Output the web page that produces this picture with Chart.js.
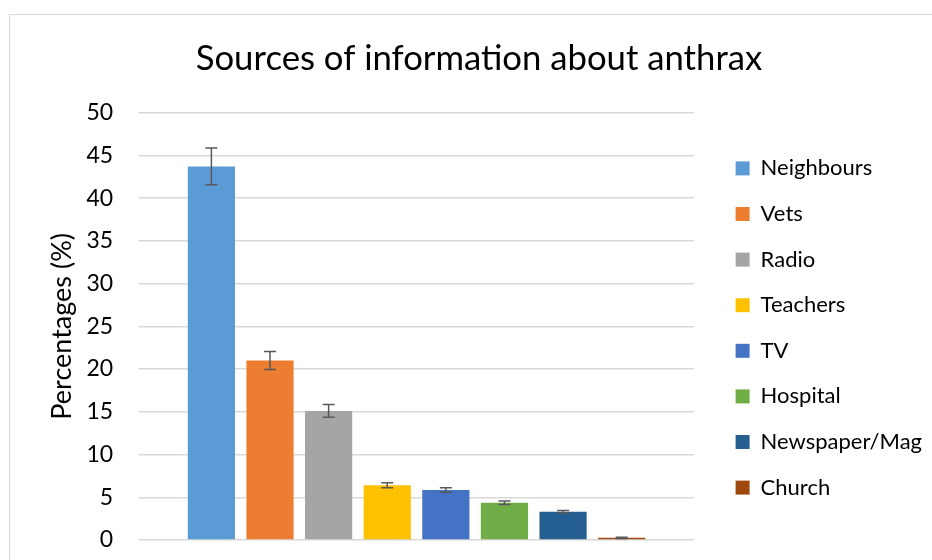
<!DOCTYPE html>
<html>
<head>
<meta charset="utf-8">
<script src="https://cdn.jsdelivr.net/npm/chart.js@4"></script>
<style>
  html, body { margin: 0; padding: 0; background: #fff; overflow: hidden; }
  #frame { position: absolute; left: 9px; top: 14px; width: 1000px; height: 1000px; border: 1px solid #D9D9D9; box-sizing: border-box; }
  #wrap { position: absolute; left: 0; top: 0; width: 932px; height: 560px; }
</style>
</head>
<body>
<div id="frame"></div>
<div id="wrap"><canvas id="c" width="932" height="560"></canvas></div>
<script>
const titleText = 'Sources of information about anthrax';
const yAxisTitle = 'Percentages (%)';
const sources = ['Neighbours', 'Vets', 'Radio', 'Teachers', 'TV', 'Hospital', 'Newspaper/Mag', 'Church'];
const percentages = [43.7, 21.0, 15.1, 6.4, 5.85, 4.35, 3.3, 0.25];
const errors = [2.15, 1.05, 0.75, 0.3, 0.25, 0.2, 0.15, 0.08];
const colors = ['#5B9BD5', '#ED7D31', '#A5A5A5', '#FFC000', '#4472C4', '#70AD47', '#255E91', '#9E480E'];
const yTicks = { min: 0, max: 50, step: 5 };

const FONT = 'Lato';
const LEGEND_EXTRA_WIDTH = 18;
const LEGEND_SHIFT_X = 18;
const LEGEND_SHIFT_Y = 39;
const TITLE_SHIFT_X = -10;

const errorBars = {
  id: 'errorBars',
  afterDatasetsDraw(chart) {
    const ctx = chart.ctx;
    const ys = chart.scales.y;
    ctx.save();
    ctx.strokeStyle = '#595959';
    ctx.lineWidth = 1.5;
    chart.data.datasets.forEach((ds, i) => {
      const meta = chart.getDatasetMeta(i);
      const bar = meta.data[0];
      if (!bar) return;
      const v = ds.data[0];
      const e = ds.errorValue;
      const yt = ys.getPixelForValue(v + e);
      const yb = ys.getPixelForValue(v - e);
      const x = bar.x;
      const cap = 6;
      ctx.beginPath();
      ctx.moveTo(x, yt); ctx.lineTo(x, yb);
      ctx.moveTo(x - cap, yt); ctx.lineTo(x + cap, yt);
      ctx.moveTo(x - cap, yb); ctx.lineTo(x + cap, yb);
      ctx.stroke();
    });
    ctx.restore();
  }
};

function shiftDraw(box, dx, dy) {
  const origDraw = box.draw.bind(box);
  box.draw = function () {
    const ctx = this.ctx;
    ctx.save();
    ctx.translate(dx, dy);
    origDraw();
    ctx.restore();
  };
}

const boxTweak = {
  id: 'boxTweak',
  afterInit(chart) {
    const lg = chart.legend;
    if (lg) {
      const origFit = lg.fit.bind(lg);
      lg.fit = function () { origFit(); this.width += LEGEND_EXTRA_WIDTH; };
      shiftDraw(lg, LEGEND_SHIFT_X, LEGEND_SHIFT_Y);
    }
    if (chart.titleBlock) shiftDraw(chart.titleBlock, TITLE_SHIFT_X, 0);
  }
};

const datasets = sources.map((name, i) => ({
  label: name,
  data: [percentages[i]],
  errorValue: errors[i],
  backgroundColor: colors[i],
  borderWidth: 0,
  categoryPercentage: 0.845,
  barPercentage: 0.805
}));

new Chart(document.getElementById('c'), {
  type: 'bar',
  data: { labels: [''], datasets },
  options: {
    responsive: false,
    animation: false,
    devicePixelRatio: 1,
    layout: { autoPadding: false, padding: { left: 46, right: 0, top: 38, bottom: 20 } },
    plugins: {
      title: {
        display: true,
        text: titleText,
        color: '#000',
        font: { family: FONT, size: 34.7, weight: 'normal' },
        padding: { top: 0, bottom: 33 }
      },
      legend: {
        position: 'right',
        labels: {
          color: '#000',
          font: { family: FONT, size: 22 },
          boxWidth: 14,
          boxHeight: 14,
          padding: 23.6
        }
      },
      tooltip: { enabled: false }
    },
    scales: {
      x: {
        display: false
      },
      y: {
        min: yTicks.min,
        max: yTicks.max,
        afterFit(scale) {
          scale.width -= 26;
          scale.paddingTop = 0;
          scale.paddingBottom = 0;
        },
        ticks: { stepSize: yTicks.step, color: '#000', font: { family: FONT, size: 23 }, padding: 26 },
        grid: { color: '#D9D9D9', lineWidth: 1.5, drawTicks: false },
        border: { display: false },
        title: { display: true, text: yAxisTitle, color: '#000', font: { family: FONT, size: 27 }, padding: { top: 0, bottom: 8 } }
      }
    }
  },
  plugins: [errorBars, boxTweak]
});
</script>
</body>
</html>
